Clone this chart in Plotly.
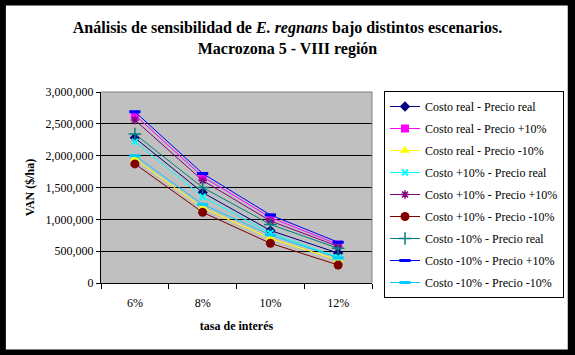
import plotly.graph_objects as go

categories = ["6%", "8%", "10%", "12%"]

series_names = [
    "Costo real - Precio real",
    "Costo real - Precio +10%",
    "Costo real - Precio -10%",
    "Costo +10% - Precio real",
    "Costo +10% - Precio +10%",
    "Costo +10% - Precio -10%",
    "Costo -10% - Precio real",
    "Costo -10% - Precio +10%",
    "Costo -10% - Precio -10%",
]

costo_real_precio_real = [2280000, 1420000, 825000, 470000]
costo_real_precio_mas10 = [2640000, 1670000, 1030000, 605000]
costo_real_precio_menos10 = [1950000, 1180000, 700000, 360000]
costo_mas10_precio_real = [2220000, 1355000, 785000, 405000]
costo_mas10_precio_mas10 = [2560000, 1610000, 975000, 575000]
costo_mas10_precio_menos10 = [1870000, 1110000, 624000, 283000]
costo_menos10_precio_real = [2340000, 1500000, 920000, 545000]
costo_menos10_precio_mas10 = [2690000, 1720000, 1069000, 640000]
costo_menos10_precio_menos10 = [2000000, 1236000, 755000, 395000]

values = [
    costo_real_precio_real, costo_real_precio_mas10, costo_real_precio_menos10,
    costo_mas10_precio_real, costo_mas10_precio_mas10, costo_mas10_precio_menos10,
    costo_menos10_precio_real, costo_menos10_precio_mas10, costo_menos10_precio_menos10,
]

y_ticks = [0, 500000, 1000000, 1500000, 2000000, 2500000, 3000000]

colors = ["#000080", "#FF00FF", "#FFFF00", "#00FFFF", "#800080",
          "#800000", "#008080", "#0000FF", "#00CCFF"]
markers = [
    dict(symbol="diamond", size=8),
    dict(symbol="square", size=8),
    dict(symbol="triangle-up", size=9),
    dict(symbol="x-thin-open", size=6, line=dict(width=2)),
    dict(symbol="asterisk-open", size=7, line=dict(width=1.5)),
    dict(symbol="circle", size=9),
    dict(symbol="cross-thin-open", size=9, line=dict(width=1.5)),
    dict(symbol="line-ew-open", size=8, line=dict(width=3)),
    dict(symbol="line-ew-open", size=8, line=dict(width=3)),
]

FONT = "Liberation Serif, Times New Roman, Times, serif"
W, H = 575, 355
L, R, T, B = 101, 202, 92, 72
pw, ph = W - L - R, H - T - B

def px2x(px):
    return (px - L) / pw

def py2y(py):
    return (H - B - py) / ph

fig = go.Figure()
for name, vals, col, mk in zip(series_names, values, colors, markers):
    m = dict(mk)
    m["color"] = col
    if "line" in m:
        m["line"] = dict(m["line"], color=col)
    fig.add_trace(go.Scatter(
        x=categories, y=vals, name=name, mode="lines+markers",
        line=dict(color=col, width=1), marker=m,
        legendgroup=name,
    ))

fig.update_layout(
    width=W, height=H,
    margin=dict(l=L, r=R, t=T, b=B),
    paper_bgcolor="white",
    plot_bgcolor="#C0C0C0",
    font=dict(family=FONT, size=12, color="black"),
    title=dict(
        text="<b>Análisis de sensibilidad de <i>E. regnans</i> bajo distintos escenarios.<br>Macrozona 5 - VIII región</b>",
        x=0.5, xanchor="center", xref="container",
        y=1 - 33 / H, yanchor="middle", yref="container",
        font=dict(family=FONT, size=16, color="black"),
    ),
    showlegend=True,
    legend=dict(
        x=px2x(384), y=py2y(91), xanchor="left", yanchor="top",
        bgcolor="white", bordercolor="black", borderwidth=1,
        font=dict(family=FONT, size=12, color="black"),
        traceorder="grouped", tracegroupgap=3,
        itemwidth=30, maxheight=400,
    ),
    xaxis=dict(
        type="category", range=[-0.5, 3.5],
        showline=True, linecolor="black", linewidth=1,
        ticks="outside", tickson="boundaries", ticklen=5, tickcolor="black",
        ticklabelstandoff=9,
        showgrid=False, zeroline=False,
        title=dict(text="<b>tasa de interés</b>", standoff=12,
                   font=dict(family=FONT, size=12)),
        tickfont=dict(family=FONT, size=12),
    ),
    yaxis=dict(
        range=[0, 3000000], tickvals=y_ticks, tickformat=",d",
        showline=True, linecolor="black", linewidth=1,
        ticks="outside", ticklen=4, tickcolor="black",
        showgrid=True, gridcolor="black", gridwidth=1,
        zeroline=False,
        title=dict(text="<b>VAN ($/ha)</b>", standoff=8,
                   font=dict(family=FONT, size=12)),
        tickfont=dict(family=FONT, size=12),
    ),
    shapes=[
        dict(type="line", xref="paper", yref="paper", x0=0, x1=1, y0=1, y1=1,
             line=dict(color="#808080", width=1), layer="above"),
        dict(type="line", xref="paper", yref="paper", x0=1, x1=1, y0=0, y1=1,
             line=dict(color="#808080", width=1), layer="above"),
        dict(type="rect", xref="paper", yref="paper",
             x0=px2x(0), x1=px2x(W), y0=py2y(H), y1=py2y(0),
             line=dict(color="black", width=11), layer="above"),
    ],
)

fig.write_html(
    "out.html",
    config={"displayModeBar": False},
    post_script="document.body.style.margin='0px';document.body.style.overflow='hidden';",
)
